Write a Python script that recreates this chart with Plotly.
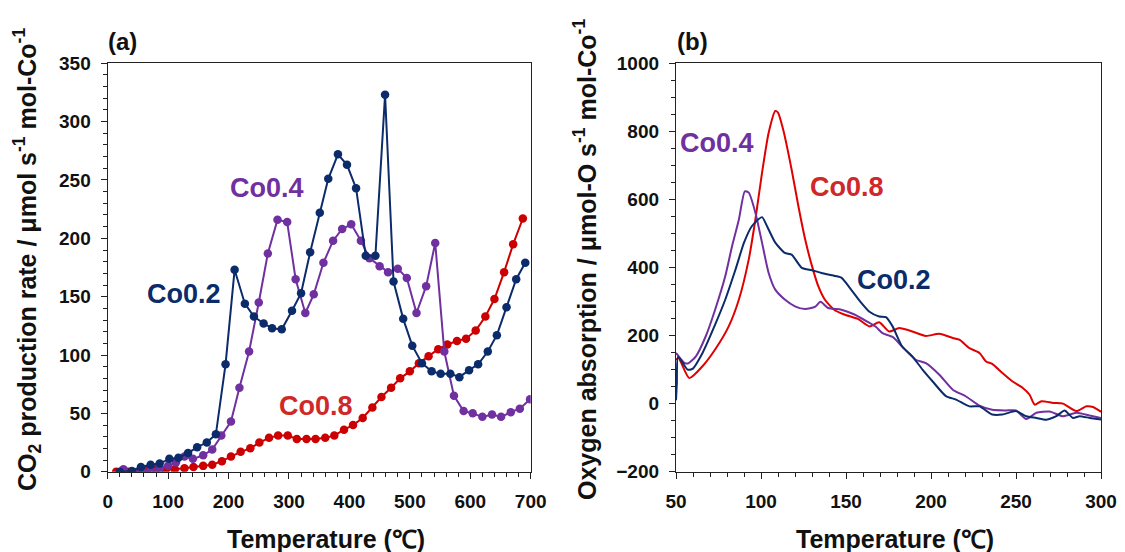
import plotly.graph_objects as go

# ---------------- Panel (a) data : CO2 production rate ----------------
t_co02 = [20, 40, 55, 71, 86, 102, 117, 133, 148, 164,
          179, 195, 210, 227, 242, 258, 272, 288, 305, 320,
          335, 351, 365, 381, 396, 411, 427, 443, 459, 473,
          489, 504, 520, 536, 551, 567, 582, 598, 613, 629,
          644, 660, 676, 691]
v_co02 = [0, 0.5, 4, 6, 7, 11, 12, 16, 21, 25,
          32, 92, 173, 144, 133, 127, 123, 122, 138, 153,
          188, 222, 251, 272, 263, 243, 185, 185, 323, 163,
          131, 108, 93, 86, 84, 84, 81, 87, 92, 103,
          117, 141, 165, 179]

t_co04 = [26, 41, 56, 71, 86, 100, 113, 127, 141, 158,
          173, 188, 204, 218, 234, 250, 265, 281, 297, 311,
          327, 341, 357, 373, 388, 403, 419, 433, 450, 464,
          480, 495, 511, 527, 542, 557, 573, 589, 604, 620,
          636, 651, 667, 682, 699]
v_co04 = [2, 0, 0.5, 1, 3, 5, 8, 13, 11, 14,
          19, 31, 43, 72, 103, 145, 187, 216, 214, 165,
          136, 152, 179, 198, 208, 212, 198, 183, 176, 171,
          174, 166, 136, 159, 196, 103, 65, 52, 50, 47,
          49, 47, 51, 54, 62]

t_co08 = [14, 34, 49, 65, 80, 96, 111, 127, 142, 158,
          173, 189, 204, 220, 236, 251, 267, 282, 298, 313,
          329, 344, 360, 375, 391, 406, 422, 438, 453, 469,
          484, 500, 515, 531, 547, 562, 578, 593, 609, 625,
          640, 656, 671, 687]
v_co08 = [0, 0, 0, 1.5, 2, 1.5, 2, 3, 4, 5,
          6, 9, 13, 17, 20, 25, 29, 31, 31, 28,
          28, 28, 29, 31, 36, 40, 46, 55, 64, 72,
          80, 86, 93, 99, 105, 109, 112, 114, 121, 133,
          148, 171, 195, 217]

# ---------------- Panel (b) data : oxygen absorption ----------------
t_o2_co02 = [50, 50.5, 51.2, 56.8, 59.7, 65.6, 73, 79, 85, 90, 94.7, 100.6, 103.5,
             108.4, 114, 118, 124, 130, 135.6, 143, 147.3, 153, 159, 163.8,
             169.5, 173.5, 177.4, 183, 189, 195, 201, 208.8, 214.7, 222.6,
             228.5, 236, 242, 250, 256, 262, 267.8, 273.7, 278.6, 283.5,
             287.4, 293.3, 300]
v_o2_co02 = [10, 60, 138, 100, 102, 149, 232, 306, 394, 473, 522, 548, 522,
             473, 443, 438, 399, 392, 384, 376, 370, 335, 296, 270,
             256, 254, 227, 168, 139, 100, 65, 22, 12, -8,
             -8, -32, -32, -22, -37, -42, -47, -37, -20, -42,
             -37, -42, -47]

t_o2_co04 = [50, 54.9, 57, 61.7, 67.5, 73, 79, 83, 87, 90.5, 92.8, 96.7, 100.6,
             104.5, 108.4, 114, 120, 125.9, 131.7, 135, 139.5, 147.3, 155,
             162.8, 167.7, 171.5, 177.4, 183, 191, 197, 204.9, 212.8, 220.6,
             228.5, 236, 244, 250, 256, 262, 269.7, 277.6, 285.5, 293.3, 300]
v_o2_co04 = [149, 120, 118, 139, 198, 276, 375, 463, 541, 624, 620, 561, 473,
             384, 335, 306, 286, 278, 284, 299, 281, 276, 262,
             240, 225, 207, 196, 168, 129, 119, 85, 41, 21,
             -6, -18, -20, -20, -45, -27, -23, -37, -27, -35, -42]

t_o2_co08 = [50, 51.5, 57.8, 65.6, 73, 81, 87, 92.8, 96.7, 100.6, 104.5, 108.4,
             110, 113, 118, 122, 126, 130, 133.7, 137.5, 143, 149, 157,
             163.8, 169.5, 175.4, 181.3, 189, 197, 204.9, 212.8, 216.7, 222.6,
             228.5, 232.4, 236, 242, 248, 254, 258, 261, 265, 272, 277.6,
             285.5, 291.4, 295.3, 300]
v_o2_co08 = [129, 134, 75, 110, 159, 227, 306, 424, 541, 678, 796, 860,
             855, 806, 688, 580, 482, 404, 345, 306, 276, 262, 249,
             227, 239, 212, 222, 212, 199, 205, 193, 188, 163,
             149, 124, 117, 90, 65, 46, 26, -3, 7, 2, 0,
             -22, -8, -10, -24]

NAVY = "#0B2B6B"
PURPLE = "#7030A0"
RED_A = "#CC0000"
RED_B = "#E00000"
FONT = "Liberation Sans, Arial, sans-serif"
AXC = "#222222"

fig = go.Figure()

for t, v, c in [(t_co08, v_co08, RED_A), (t_co04, v_co04, PURPLE), (t_co02, v_co02, NAVY)]:
    fig.add_trace(go.Scatter(x=t, y=v, mode="lines+markers", xaxis="x", yaxis="y",
                             line=dict(color=c, width=2),
                             marker=dict(color=c, size=8.5), showlegend=False))

for t, v, c in [(t_o2_co08, v_o2_co08, RED_B), (t_o2_co04, v_o2_co04, PURPLE), (t_o2_co02, v_o2_co02, NAVY)]:
    fig.add_trace(go.Scatter(x=t, y=v, mode="lines", xaxis="x2", yaxis="y2",
                             line=dict(color=c, width=2, shape="spline", smoothing=0.6),
                             showlegend=False))

tickfont = dict(family=FONT, size=19, color="#111", weight="bold")

def axis(domain, rng, dtick, minor, anchor):
    return dict(domain=domain, range=rng, dtick=dtick, anchor=anchor, automargin=False,
                showgrid=False, zeroline=False, showline=True, linecolor=AXC, linewidth=1.3,
                mirror=True, ticks="outside", ticklen=6, tickwidth=1.3, tickcolor=AXC,
                tickfont=tickfont, ticklabelstandoff=6,
                minor=dict(dtick=minor, ticks="outside", ticklen=4, tickwidth=1.2,
                           tickcolor=AXC, showgrid=False))

ydom = [1 - 471.7 / 552, 1 - 63.3 / 552]
fig.update_layout(
    template="none",
    width=1125, height=552, margin=dict(l=0, r=0, t=0, b=0, autoexpand=False),
    paper_bgcolor="white", plot_bgcolor="white",
    xaxis=axis([107.7 / 1125, 530.7 / 1125], [0, 700], 100, 20, "y"),
    yaxis=axis(ydom, [0, 350], 50, 10, "x"),
    xaxis2=axis([676 / 1125, 1101 / 1125], [50, 300], 50, 10, "y2"),
    yaxis2=axis(ydom, [-200, 1000], 200, 50, "x2"),
)

ann = []
lab = dict(family=FONT, size=27, weight="bold")
for txt, x, y, c, xr, yr in [
    ("Co0.2", 126, 152, NAVY, "x", "y"),
    ("Co0.4", 264, 243, PURPLE, "x", "y"),
    ("Co0.8", 345, 56, "#D02828", "x", "y"),
    ("Co0.4", 74, 765, PURPLE, "x2", "y2"),
    ("Co0.8", 150.6, 636, "#D02828", "x2", "y2"),
    ("Co0.2", 178, 364, NAVY, "x2", "y2"),
]:
    ann.append(dict(text=txt, x=x, y=y, xref=xr, yref=yr, showarrow=False,
                    xanchor="center", yanchor="middle", font=dict(lab, color=c)))

title_font = dict(family=FONT, size=25, color="#111")
common = dict(xref="paper", yref="paper", showarrow=False, xanchor="center", yanchor="middle")
ann += [
    dict(text="<b>(a)</b>", x=122 / 1125, y=1 - 41 / 552,
         font=dict(family=FONT, size=24, color="#111"), **common),
    dict(text="<b>(b)</b>", x=692 / 1125, y=1 - 41 / 552,
         font=dict(family=FONT, size=24, color="#111"), **common),
    dict(text="<b>Temperature (℃)</b>", x=326 / 1125, y=1 - 539 / 552,
         font=title_font, **common),
    dict(text="<b>Temperature (℃)</b>", x=895 / 1125, y=1 - 539 / 552,
         font=title_font, **common),
    dict(text="<b>CO<sub>2</sub> production rate / μmol s<sup>-1</sup> mol-Co<sup>-1</sup></b>",
         x=27 / 1125, y=1 - 260 / 552, textangle=-90, font=title_font, **common),
    dict(text="<b>Oxygen absorption / μmol-O s<sup>-1</sup> mol-Co<sup>-1</sup></b>",
         x=585 / 1125, y=1 - 260 / 552, textangle=-90, font=title_font, **common),
]
fig.update_layout(annotations=ann)

fig.write_html("out.html")
